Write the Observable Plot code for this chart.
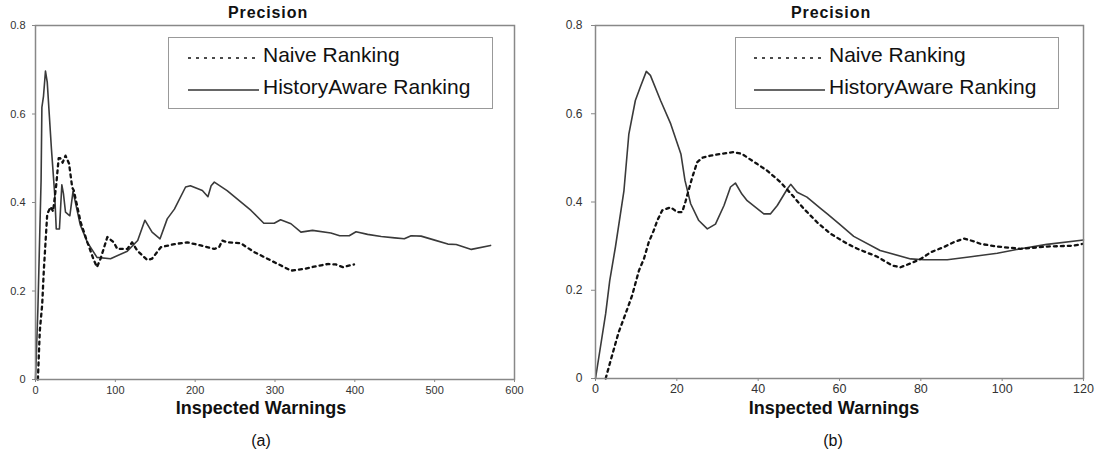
<!DOCTYPE html>
<html>
<head>
<meta charset="utf-8">
<script src="https://cdn.jsdelivr.net/npm/d3@7"></script>
<script src="https://cdn.jsdelivr.net/npm/@observablehq/plot@0.6"></script>
<style>
  html, body { margin: 0; padding: 0; background: #fff; }
  #root { position: relative; width: 1096px; height: 473px; overflow: hidden; font-family: "Liberation Sans", Arial, sans-serif; }
  .panel { position: absolute; top: 0; }
  .ttl { position: absolute; font-weight: bold; font-size: 16px; line-height: 16px; letter-spacing: 0.9px; transform: translateX(-50%); white-space: nowrap; color: #111; }
  .xl { position: absolute; font-weight: bold; font-size: 18px; line-height: 16px; transform: translateX(-50%); white-space: nowrap; color: #111; }
  .cap { position: absolute; font-size: 16px; line-height: 18px; transform: translateX(-50%); color: #111; }
  .legend { position: absolute; border: 1px solid #999; background: #fff; box-sizing: border-box; }
  .legend .row { position: absolute; left: 0; font-size: 21px; line-height: 24px; color: #111; white-space: nowrap; }
</style>
</head>
<body>
<div id="root"></div>
<script>
// ---- data ----
const seriesNames = ["Naive Ranking", "HistoryAware Ranking"];
const chartTitle = "Precision";
const xAxisTitle = "Inspected Warnings";
const captions = ["(a)", "(b)"];

const leftXTicks = [0, 100, 200, 300, 400, 500, 600];
const rightXTicks = [0, 20, 40, 60, 80, 100, 120];
const yTicks = [0, 0.2, 0.4, 0.6, 0.8];

// (a) Naive Ranking
const aNaiveX = [3, 5.4, 8.4, 10.4, 14.7, 19, 22, 26, 29, 31, 34, 37.6, 42, 46, 48, 56.5, 65, 73, 77, 81.5, 90, 98, 102.5, 115, 121, 127.6, 140, 146, 157, 174, 190, 207, 224, 230, 234, 240.5, 257, 274, 290.5, 307, 320, 336.6, 349, 366, 376, 385, 399];
const aNaiveY = [0, 0.11, 0.17, 0.246, 0.374, 0.39, 0.38, 0.44, 0.5, 0.5, 0.49, 0.506, 0.488, 0.434, 0.427, 0.356, 0.31, 0.27, 0.254, 0.273, 0.322, 0.31, 0.295, 0.295, 0.31, 0.291, 0.27, 0.273, 0.299, 0.306, 0.31, 0.303, 0.295, 0.299, 0.314, 0.31, 0.308, 0.288, 0.273, 0.258, 0.246, 0.25, 0.255, 0.261, 0.26, 0.254, 0.26];
// (a) HistoryAware Ranking
const aHistX = [0, 3, 7, 8, 10, 12.5, 14.7, 20, 24, 26, 30, 33, 35, 37.6, 43, 47, 56, 65, 77, 94, 115, 128, 137, 146, 156, 165, 174, 188, 194, 209, 216, 220, 224, 240, 270, 286, 299, 307, 320, 332.5, 347, 370, 381, 393, 401.5, 416, 433, 450, 462, 470.5, 483, 500, 516.5, 527, 546, 570];
const aHistY = [0, 0.16, 0.45, 0.615, 0.64, 0.697, 0.672, 0.52, 0.42, 0.34, 0.34, 0.44, 0.42, 0.378, 0.37, 0.425, 0.35, 0.31, 0.276, 0.273, 0.29, 0.314, 0.36, 0.333, 0.318, 0.363, 0.385, 0.435, 0.438, 0.427, 0.413, 0.438, 0.446, 0.427, 0.382, 0.353, 0.353, 0.361, 0.352, 0.333, 0.337, 0.331, 0.325, 0.325, 0.334, 0.328, 0.323, 0.32, 0.318, 0.325, 0.324, 0.315, 0.306, 0.305, 0.294, 0.303];

// (b) Naive Ranking
const bNaiveX = [2.5, 3.7, 5.7, 7.4, 9, 10.7, 11.9, 13.1, 14.3, 15.2, 16.4, 18.5, 20.1, 21.3, 22.1, 23, 23.8, 25, 26.2, 28.3, 30.8, 34, 36, 39.8, 42.2, 45.5, 48.8, 51.2, 54.5, 57.8, 62, 64.4, 69.3, 73, 75, 77.5, 80, 82.4, 85.7, 88.1, 90.6, 93, 94.7, 98.8, 104.5, 111, 117.6, 119.7];
const bNaiveY = [0, 0.04, 0.105, 0.147, 0.188, 0.245, 0.271, 0.309, 0.335, 0.358, 0.381, 0.388, 0.377, 0.377, 0.4, 0.43, 0.456, 0.49, 0.5, 0.505, 0.509, 0.513, 0.509, 0.486, 0.471, 0.445, 0.411, 0.385, 0.354, 0.328, 0.305, 0.294, 0.276, 0.256, 0.252, 0.261, 0.271, 0.286, 0.298, 0.309, 0.317, 0.311, 0.305, 0.299, 0.294, 0.299, 0.301, 0.305];
// (b) HistoryAware Ranking
const bHistX = [0, 2.5, 3.5, 4.9, 7, 8.2, 9.8, 11, 12.5, 13.5, 16, 18.5, 21, 22, 23.4, 25.4, 27.5, 29.5, 31.6, 33.2, 34.4, 36, 37.3, 41.4, 43, 44.7, 47.2, 48, 49.6, 52, 55.4, 57, 60, 63.5, 70, 77.5, 80.8, 86.5, 92.3, 98.8, 104.5, 111, 120];
const bHistY = [0, 0.147, 0.222, 0.298, 0.426, 0.554, 0.63, 0.66, 0.696, 0.687, 0.63, 0.577, 0.509, 0.449, 0.396, 0.358, 0.339, 0.35, 0.392, 0.434, 0.443, 0.418, 0.403, 0.373, 0.373, 0.392, 0.43, 0.44, 0.422, 0.411, 0.385, 0.373, 0.35, 0.322, 0.29, 0.271, 0.269, 0.269, 0.276, 0.284, 0.294, 0.304, 0.314];

const toRows = (xs, ys) => xs.map((x, i) => ({x, y: ys[i]}));

function makeChart(cfg) {
  return Plot.plot({
    width: 548,
    height: 473,
    marginLeft: cfg.ml, marginRight: cfg.mr, marginTop: 25, marginBottom: cfg.mb,
    x: {domain: cfg.xDomain, label: null},
    y: {domain: [0, 0.8], label: null},
    style: {fontFamily: "'Liberation Sans', Arial, sans-serif", background: "white", overflow: "visible"},
    marks: [
      Plot.axisY({ticks: yTicks, tickSize: cfg.yts, tickPadding: cfg.ytp, fontSize: cfg.yfs, stroke: "#888", fill: "#333", label: null, tickFormat: d => d === 0 ? "0" : d3.format(".1f")(d)}),
      Plot.axisX({ticks: cfg.xTicks, tickSize: 3, tickPadding: cfg.xtp, fontSize: cfg.xfs, stroke: "#888", fill: "#333", label: null, tickFormat: d => String(d)}),
      Plot.line(toRows(cfg.hx, cfg.hy), {x: "x", y: "y", stroke: "#3a3a3a", strokeWidth: 1.6}),
      Plot.line(toRows(cfg.nx, cfg.ny), {x: "x", y: "y", stroke: "#111", strokeWidth: 2.3, strokeDasharray: "3,4"}),
      Plot.frame({stroke: "#888", strokeWidth: 1.5})
    ]
  });
}

const root = document.getElementById("root");

const panels = [
  {left: 0, ml: 35, mr: 34, mb: 94, xDomain: [0, 600], xTicks: leftXTicks, yts: 3, ytp: 7, yfs: 11, xtp: 4, xfs: 11,
   nx: aNaiveX, ny: aNaiveY, hx: aHistX, hy: aHistY,
   titleX: 268, xlX: 261, capX: 261, legend: {x: 168, w: 325, lineX: 19, textX: 94}},
  {left: 548, ml: 47, mr: 13, mb: 95, xDomain: [0, 120], xTicks: rightXTicks, yts: 4, ytp: 9, yfs: 12, xtp: 3, xfs: 12.5,
   nx: bNaiveX, ny: bNaiveY, hx: bHistX, hy: bHistY,
   titleX: 831, xlX: 834, capX: 833, legend: {x: 735, w: 324, lineX: 18, textX: 93}}
];

panels.forEach((p, i) => {
  const wrap = document.createElement("div");
  wrap.className = "panel";
  wrap.style.left = p.left + "px";
  wrap.appendChild(makeChart(p));
  root.appendChild(wrap);

  const t = document.createElement("div");
  t.className = "ttl"; t.textContent = chartTitle;
  t.style.left = p.titleX + "px"; t.style.top = "5px";
  root.appendChild(t);

  const xl = document.createElement("div");
  xl.className = "xl"; xl.textContent = xAxisTitle;
  xl.style.left = p.xlX + "px"; xl.style.top = "400px";
  root.appendChild(xl);

  const cap = document.createElement("div");
  cap.className = "cap"; cap.textContent = captions[i];
  cap.style.left = p.capX + "px"; cap.style.top = "432px";
  root.appendChild(cap);

  const lg = document.createElement("div");
  lg.className = "legend";
  lg.style.left = p.legend.x + "px"; lg.style.top = "37px";
  lg.style.width = p.legend.w + "px"; lg.style.height = "72px";
  const svgNS = "http://www.w3.org/2000/svg";
  const svg = document.createElementNS(svgNS, "svg");
  svg.setAttribute("width", p.legend.w); svg.setAttribute("height", 70);
  svg.style.position = "absolute"; svg.style.left = "0"; svg.style.top = "0";
  const l1 = document.createElementNS(svgNS, "line");
  l1.setAttribute("x1", p.legend.lineX); l1.setAttribute("x2", p.legend.textX - 6);
  l1.setAttribute("y1", 20); l1.setAttribute("y2", 20);
  l1.setAttribute("stroke", "#111"); l1.setAttribute("stroke-width", 1.6); l1.setAttribute("stroke-dasharray", "3,5");
  const l2 = document.createElementNS(svgNS, "line");
  l2.setAttribute("x1", p.legend.lineX); l2.setAttribute("x2", p.legend.textX - 4);
  l2.setAttribute("y1", 52); l2.setAttribute("y2", 52);
  l2.setAttribute("stroke", "#333"); l2.setAttribute("stroke-width", 1.5);
  svg.appendChild(l1); svg.appendChild(l2);
  lg.appendChild(svg);
  seriesNames.forEach((name, j) => {
    const r = document.createElement("div");
    r.className = "row"; r.textContent = name;
    r.style.left = p.legend.textX + "px";
    r.style.top = (j === 0 ? 5 : 37) + "px";
    lg.appendChild(r);
  });
  root.appendChild(lg);
});
</script>
</body>
</html>
